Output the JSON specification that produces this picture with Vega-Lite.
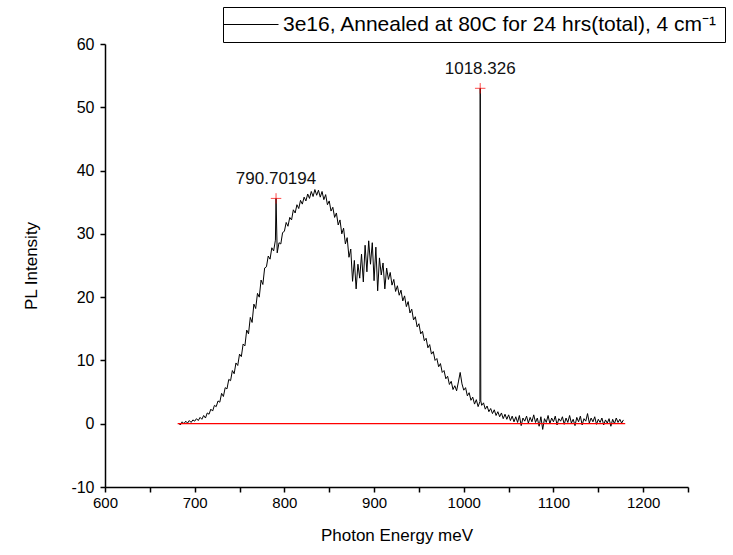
{
  "$schema": "https://vega.github.io/schema/vega-lite/v6.json",
  "width": 583,
  "height": 443,
  "autosize": {"type": "none"},
  "padding": {"left": 105, "top": 44, "right": 45, "bottom": 68},
  "background": "white",
  "config": {
    "font": "Liberation Sans",
    "view": {"stroke": null},
    "axis": {
      "domainColor": "black", "domainWidth": 1.5, "tickColor": "black", "tickWidth": 1.5,
      "tickSize": 5, "labelColor": "black", "titleColor": "black", "labelFontSize": 15,
      "titleFontSize": 17, "titleFontWeight": "normal", "grid": false, "labelPadding": 3
    }
  },
  "datasets": {
    "spec": [
      {"e":682,"i":0.1},{"e":684,"i":-0.2},{"e":686,"i":0.3},{"e":688,"i":0.0},{"e":690,"i":0.4},{"e":692,"i":0.1},{"e":694,"i":0.5},{"e":696,"i":0.2},{"e":698,"i":0.6},{"e":700,"i":0.4},
      {"e":702,"i":0.8},{"e":704,"i":0.5},{"e":706,"i":1.0},{"e":708,"i":0.7},{"e":710,"i":1.3},{"e":712,"i":0.9},{"e":714,"i":1.7},{"e":716,"i":1.5},{"e":718,"i":2.3},{"e":720,"i":2.0},
      {"e":722,"i":2.9},{"e":724,"i":2.7},{"e":726,"i":3.6},{"e":728,"i":3.4},{"e":730,"i":4.8},{"e":732,"i":4.3},{"e":734,"i":5.7},{"e":736,"i":5.5},{"e":738,"i":7.0},{"e":740,"i":6.8},
      {"e":742,"i":8.4},{"e":744,"i":7.9},{"e":746,"i":9.6},{"e":748,"i":9.2},{"e":750,"i":11.0},{"e":752,"i":10.6},{"e":754,"i":12.6},{"e":756,"i":12.3},{"e":758,"i":14.8},{"e":760,"i":14.2},
      {"e":762,"i":16.8},{"e":764,"i":16.0},{"e":766,"i":18.9},{"e":768,"i":18.2},{"e":770,"i":20.6},{"e":772,"i":20.0},{"e":774,"i":22.7},{"e":776,"i":22.0},{"e":778,"i":24.6},{"e":780,"i":24.8},
      {"e":782,"i":26.5},{"e":784,"i":26.0},{"e":786,"i":27.8},{"e":788,"i":27.3},{"e":790,"i":29.0},{"e":790.70194,"i":35.6},{"e":792,"i":27.0},{"e":794,"i":28.6},{"e":796,"i":28.4},{"e":798,"i":30.2},{"e":800,"i":30.4},
      {"e":802,"i":31.8},{"e":804,"i":31.2},{"e":806,"i":32.6},{"e":808,"i":32.2},{"e":810,"i":33.8},{"e":812,"i":33.3},{"e":814,"i":34.6},{"e":816,"i":34.0},{"e":818,"i":35.3},{"e":820,"i":34.7},
      {"e":822,"i":35.8},{"e":824,"i":35.2},{"e":826,"i":36.3},{"e":828,"i":35.6},{"e":830,"i":36.7},{"e":832,"i":35.9},{"e":834,"i":37.0},{"e":836,"i":36.1},{"e":838,"i":36.9},{"e":840,"i":35.8},
      {"e":842,"i":36.7},{"e":844,"i":35.4},{"e":846,"i":36.2},{"e":848,"i":34.6},{"e":850,"i":35.2},{"e":852,"i":33.6},{"e":854,"i":34.2},{"e":856,"i":32.6},{"e":858,"i":33.3},{"e":860,"i":31.4},
      {"e":862,"i":32.2},{"e":864,"i":30.0},{"e":866,"i":30.9},{"e":868,"i":28.4},{"e":870,"i":29.4},{"e":872,"i":26.3},{"e":874,"i":27.6},{"e":876,"i":22.5},{"e":878,"i":25.8},{"e":880,"i":21.3},
      {"e":882,"i":25.2},{"e":884,"i":23.0},{"e":886,"i":26.8},{"e":888,"i":22.4},{"e":890,"i":28.2},{"e":892,"i":24.0},{"e":894,"i":28.9},{"e":896,"i":25.2},{"e":898,"i":28.6},{"e":900,"i":22.6},
      {"e":902,"i":27.9},{"e":904,"i":21.0},{"e":906,"i":26.2},{"e":908,"i":23.5},{"e":910,"i":25.4},{"e":912,"i":21.3},{"e":914,"i":24.6},{"e":916,"i":22.8},{"e":918,"i":23.9},{"e":920,"i":21.9},
      {"e":922,"i":22.8},{"e":924,"i":20.9},{"e":926,"i":21.8},{"e":928,"i":20.3},{"e":930,"i":21.1},{"e":932,"i":19.4},{"e":934,"i":20.2},{"e":936,"i":18.5},{"e":938,"i":19.3},{"e":940,"i":17.5},
      {"e":942,"i":18.1},{"e":944,"i":16.4},{"e":946,"i":16.9},{"e":948,"i":15.3},{"e":950,"i":15.8},{"e":952,"i":14.2},{"e":954,"i":14.6},{"e":956,"i":13.1},{"e":958,"i":13.5},{"e":960,"i":12.0},
      {"e":962,"i":12.5},{"e":964,"i":11.0},{"e":966,"i":11.4},{"e":968,"i":10.0},{"e":970,"i":10.3},{"e":972,"i":9.0},{"e":974,"i":9.5},{"e":976,"i":8.1},{"e":978,"i":8.4},{"e":980,"i":7.1},
      {"e":982,"i":7.5},{"e":984,"i":6.2},{"e":986,"i":6.7},{"e":988,"i":5.4},{"e":990,"i":6.0},{"e":992,"i":5.2},{"e":994,"i":6.6},{"e":996,"i":8.1},{"e":998,"i":6.3},{"e":1000,"i":5.3},
      {"e":1002,"i":5.7},{"e":1004,"i":4.4},{"e":1006,"i":4.9},{"e":1008,"i":3.7},{"e":1010,"i":4.2},{"e":1012,"i":3.1},{"e":1014,"i":3.8},{"e":1016,"i":2.7},{"e":1018,"i":3.5},{"e":1018.326,"i":53.0},{"e":1019,"i":3.6},{"e":1020,"i":2.9},
      {"e":1022,"i":3.3},{"e":1024,"i":2.3},{"e":1026,"i":2.8},{"e":1028,"i":1.9},{"e":1030,"i":2.4},{"e":1032,"i":1.6},{"e":1034,"i":2.2},{"e":1036,"i":1.3},{"e":1038,"i":1.9},{"e":1040,"i":1.1},
      {"e":1042,"i":1.7},{"e":1044,"i":0.8},{"e":1046,"i":1.5},{"e":1048,"i":0.7},{"e":1050,"i":1.4},{"e":1052,"i":0.5},{"e":1054,"i":1.2},{"e":1056,"i":0.3},{"e":1058,"i":1.1},{"e":1060,"i":0.2},
      {"e":1062,"i":1.3},{"e":1064,"i":-0.3},{"e":1066,"i":0.9},{"e":1068,"i":0.4},{"e":1070,"i":1.2},{"e":1072,"i":0.1},{"e":1074,"i":1.0},{"e":1076,"i":0.3},{"e":1078,"i":1.4},{"e":1080,"i":0.2},
      {"e":1082,"i":0.9},{"e":1084,"i":-0.4},{"e":1086,"i":1.1},{"e":1088,"i":-0.9},{"e":1090,"i":0.8},{"e":1092,"i":0.2},{"e":1094,"i":1.3},{"e":1096,"i":0.0},{"e":1098,"i":0.9},{"e":1100,"i":0.3},
      {"e":1102,"i":1.2},{"e":1104,"i":-0.2},{"e":1106,"i":0.8},{"e":1108,"i":0.4},{"e":1110,"i":1.1},{"e":1112,"i":-0.1},{"e":1114,"i":0.9},{"e":1116,"i":0.2},{"e":1118,"i":1.3},{"e":1120,"i":0.1},
      {"e":1122,"i":0.7},{"e":1124,"i":-0.3},{"e":1126,"i":1.0},{"e":1128,"i":0.3},{"e":1130,"i":1.2},{"e":1132,"i":-0.2},{"e":1134,"i":0.8},{"e":1136,"i":0.4},{"e":1138,"i":1.6},{"e":1140,"i":0.1},
      {"e":1142,"i":0.9},{"e":1144,"i":0.3},{"e":1146,"i":1.1},{"e":1148,"i":-0.1},{"e":1150,"i":0.7},{"e":1152,"i":0.2},{"e":1154,"i":0.9},{"e":1156,"i":-0.2},{"e":1158,"i":0.6},{"e":1160,"i":0.1},
      {"e":1162,"i":0.8},{"e":1164,"i":-0.4},{"e":1166,"i":0.7},{"e":1168,"i":0.0},{"e":1170,"i":0.9},{"e":1172,"i":0.2},{"e":1174,"i":0.7},{"e":1176,"i":0.1},{"e":1178,"i":0.6}
    ],
    "base": [{"e": 681, "i": 0}, {"e": 1180, "i": 0}],
    "peaks": [{"e": 790.70194, "i": 35.6, "label": "790.70194"}, {"e": 1018.326, "i": 53.0, "label": "1018.326"}]
  },
  "layer": [
    {
      "data": {"name": "spec"},
      "mark": {"type": "line", "strokeWidth": 1, "interpolate": "linear"},
      "encoding": {
        "x": {"field": "e", "type": "quantitative", "scale": {"domain": [600, 1250], "nice": false, "zero": false},
          "axis": {"title": "Photon Energy meV", "values": [600,650,700,750,800,850,900,950,1000,1050,1100,1150,1200,1250],
            "labelExpr": "datum.value % 100 == 0 ? datum.label : ''", "format": "d", "titlePadding": 17, "labelFlush": false}},
        "y": {"field": "i", "type": "quantitative", "scale": {"domain": [-10, 60], "nice": false, "zero": false},
          "axis": {"title": "PL Intensity", "values": [-10,-5,0,5,10,15,20,25,30,35,40,45,50,55,60],
            "labelExpr": "datum.value % 10 == 0 ? '' + datum.value : ''", "labelPadding": 6, "labelFontSize": 16, "titlePadding": 30}},
        "color": {"datum": "3e16, Annealed at 80C for 24 hrs(total), 4 cm⁻¹", "type": "nominal", "scale": {"range": ["black"]},
          "legend": {"title": null, "orient": "none", "legendX": 118, "legendY": -37, "strokeColor": "black",
            "padding": 7, "symbolType": "M -3.4 0 L 7.6 0", "symbolSize": 100, "symbolStrokeWidth": 1,
            "labelFontSize": 21, "labelLimit": 700, "labelColor": "black", "labelOffset": 32, "fillColor": "white"}}
      }
    },
    {
      "data": {"name": "base"},
      "mark": {"type": "line", "color": "red", "strokeWidth": 1.2},
      "encoding": {"x": {"field": "e", "type": "quantitative"}, "y": {"field": "i", "type": "quantitative"}}
    },
    {
      "data": {"name": "peaks"},
      "mark": {"type": "point", "shape": "M -1 0 L 1 0 M 0 -1 L 0 1", "filled": false, "color": "red", "strokeWidth": 1, "size": 110},
      "encoding": {"x": {"field": "e", "type": "quantitative"}, "y": {"field": "i", "type": "quantitative"}}
    },
    {
      "data": {"name": "peaks"},
      "mark": {"type": "text", "fontSize": 17, "color": "#111", "dy": -19, "baseline": "middle", "align": "center"},
      "encoding": {"x": {"field": "e", "type": "quantitative"}, "y": {"field": "i", "type": "quantitative"}, "text": {"field": "label"}}
    }
  ]
}
